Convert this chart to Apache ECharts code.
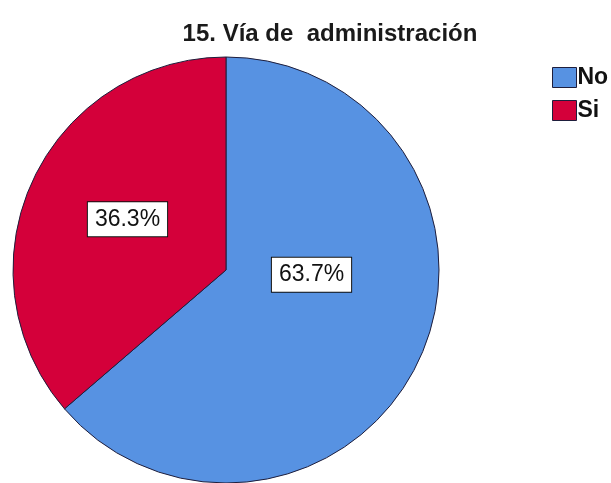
<!DOCTYPE html>
<html>
<head>
<meta charset="utf-8">
<script src="https://cdn.jsdelivr.net/npm/echarts@6/dist/echarts.min.js"></script>
<style>
  html, body { margin: 0; padding: 0; background: #ffffff; }
  #chart { width: 611px; height: 483px; }
</style>
</head>
<body>
<div id="chart"></div>
<script>
// Respuestas a la pregunta 15 (porcentaje)
const categories = ['No', 'Si'];
const percentages = [63.7, 36.3];
const sliceColors = ['#5792e2', '#d4003a'];
// Desplazamiento de cada etiqueta respecto a su posición interior
const labelOffsets = [[-14, -41], [1, -5]];

const chart = echarts.init(document.getElementById('chart'), null, { renderer: 'canvas' });

const pieData = categories.map((name, i) => ({
  name: name,
  value: percentages[i],
  itemStyle: { color: sliceColors[i] },
  label: { offset: labelOffsets[i] }
}));

chart.setOption({
  animation: false,
  backgroundColor: '#ffffff',
  title: {
    text: '15. Vía de  administración',
    left: 325,
    top: 17,
    textAlign: 'center',
    textStyle: {
      fontFamily: 'Liberation Sans, Arial, sans-serif',
      fontSize: 24,
      fontWeight: 'bold',
      color: '#1a1a1a'
    }
  },
  legend: {
    orient: 'vertical',
    left: 547,
    top: 61,
    icon: 'rect',
    itemWidth: 24,
    itemHeight: 20,
    itemGap: 10,
    selectedMode: false,
    data: categories,
    itemStyle: { borderColor: '#1e1e3c', borderWidth: 1 },
    textStyle: {
      fontFamily: 'Liberation Sans, Arial, sans-serif',
      fontSize: 23,
      fontWeight: 'bold',
      color: '#111111',
      padding: [0, 0, 0, -4]
    }
  },
  series: [{
    type: 'pie',
    center: [226, 270],
    radius: [0, 213],
    startAngle: 90,
    clockwise: true,
    avoidLabelOverlap: false,
    data: pieData,
    itemStyle: { borderColor: '#1e1e3c', borderWidth: 1 },
    label: {
      show: true,
      position: 'inside',
      formatter: p => p.value.toFixed(1) + '%',
      fontFamily: 'Liberation Sans, Arial, sans-serif',
      fontSize: 23,
      fontWeight: 500,
      color: '#111111',
      backgroundColor: '#ffffff',
      borderColor: '#111111',
      borderWidth: 1,
      padding: [6, 7, 5, 7]
    },
    labelLine: { show: false },
    emphasis: { disabled: true }
  }]
});
</script>
</body>
</html>
